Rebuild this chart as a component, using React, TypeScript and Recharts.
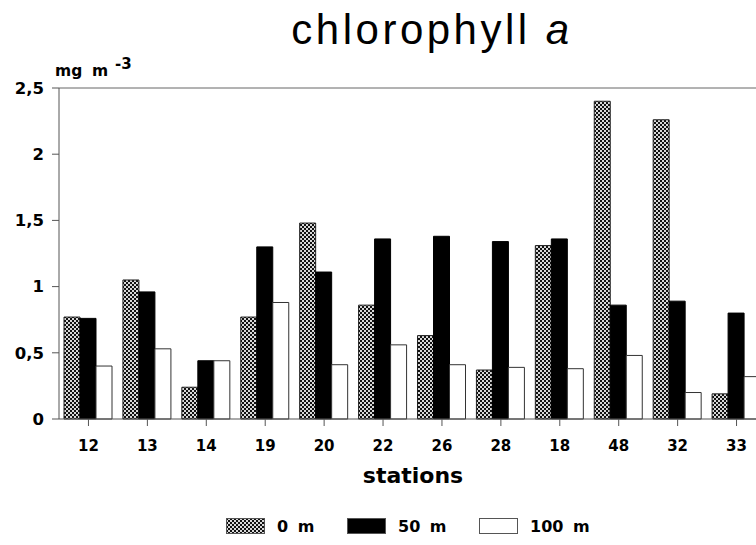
import { BarChart, Bar, XAxis, YAxis, ReferenceLine } from "recharts";

// chlorophyll a concentration (mg m-3) per station and depth
const stations = ["12", "13", "14", "19", "20", "22", "26", "28", "18", "48", "32", "33"];
const depth0 = [0.77, 1.05, 0.24, 0.77, 1.48, 0.86, 0.63, 0.37, 1.31, 2.4, 2.26, 0.19];
const depth50 = [0.76, 0.96, 0.44, 1.3, 1.11, 1.36, 1.38, 1.34, 1.36, 0.86, 0.89, 0.8];
const depth100 = [0.4, 0.53, 0.44, 0.88, 0.41, 0.56, 0.41, 0.39, 0.38, 0.48, 0.2, 0.32];
const yTicks = [0, 0.5, 1, 1.5, 2, 2.5];
const depthLabels = ["0 m", "50 m", "100 m"];

const data = stations.map((s, i) => ({
  station: s,
  d0: depth0[i],
  d50: depth50[i],
  d100: depth100[i],
}));

const TITLE_FONT = '"Liberation Sans", Arial, Helvetica, sans-serif';
const FONT = '"DejaVu Sans", Verdana, sans-serif';
const DOTS = "url(#dots)";

const swatchFills = [DOTS, "#000", "#fff"];
const legendLeft = [226, 347, 479];

function Swatch({ fill }: { fill: string }) {
  return (
    <svg width={40} height={17} style={{ display: "block" }}>
      <rect x={0.5} y={0.5} width={38} height={15} fill={fill} stroke="#555" strokeWidth={1} />
    </svg>
  );
}

export default function App() {
  return (
    <div
      style={{
        position: "absolute",
        left: 0,
        top: 0,
        width: 756,
        height: 545,
        overflow: "hidden",
        background: "#fff",
        fontFamily: FONT,
        color: "#000",
      }}
    >
      {/* checkered fill for the surface samples */}
      <svg width={0} height={0} style={{ position: "absolute" }}>
        <defs>
          <pattern id="dots" width={4} height={4} patternUnits="userSpaceOnUse">
            <rect width={4} height={4} fill="#d8d8d8" />
            <rect x={0} y={0} width={2} height={2} fill="#111" />
            <rect x={2} y={2} width={2} height={2} fill="#111" />
          </pattern>
        </defs>
      </svg>

      <div
        style={{
          position: "absolute",
          left: 232,
          top: 5,
          width: 400,
          textAlign: "center",
          fontFamily: TITLE_FONT,
          fontSize: 42,
          letterSpacing: 3.5,
          lineHeight: "50px",
        }}
      >
        chlorophyll <i>a</i>
      </div>

      {/* unit label */}
      <div style={{ position: "absolute", left: 55, top: 62, fontSize: 15.5, fontWeight: "bold", lineHeight: "18px" }}>
        mg
      </div>
      <div style={{ position: "absolute", left: 92, top: 62, fontSize: 15.5, fontWeight: "bold", lineHeight: "18px" }}>
        m
      </div>
      <div style={{ position: "absolute", left: 115, top: 55, fontSize: 15, fontWeight: "bold", lineHeight: "18px" }}>
        -3
      </div>

      <div style={{ position: "absolute", left: 0, top: 0 }}>
        <BarChart
          width={800}
          height={545}
          data={data}
          margin={{ top: 88, right: 34, bottom: 96, left: 0 }}
          barGap={0}
        >
          <XAxis
            dataKey="station"
            height={30}
            tickSize={7}
            tickMargin={14}
            stroke="#555"
            tick={{ fill: "#000", fontSize: 15, fontWeight: "bold", fontFamily: FONT }}
          />
          <YAxis
            width={59}
            domain={[0, 2.5]}
            ticks={yTicks}
            tickSize={7}
            tickMargin={8}
            stroke="#555"
            tickFormatter={(v: number) => String(v).replace(".", ",")}
            tick={{ fill: "#000", fontSize: 16.5, fontWeight: "bold", fontFamily: FONT }}
          />
          <ReferenceLine y={2.5} stroke="#666" strokeWidth={1} />
          <Bar dataKey="d0" barSize={16} fill={DOTS} stroke="#222" strokeWidth={1} isAnimationActive={false} />
          <Bar dataKey="d50" barSize={16} fill="#000" stroke="#000" strokeWidth={1} isAnimationActive={false} />
          <Bar dataKey="d100" barSize={16} fill="#fff" stroke="#333" strokeWidth={1} isAnimationActive={false} />
        </BarChart>
      </div>

      <div
        style={{
          position: "absolute",
          left: 313,
          top: 462,
          width: 200,
          textAlign: "center",
          fontSize: 22,
          fontWeight: "bold",
          lineHeight: "28px",
        }}
      >
        stations
      </div>

      {depthLabels.map((label, i) => (
        <div
          key={label}
          style={{
            position: "absolute",
            left: legendLeft[i],
            top: 518,
            display: "flex",
            alignItems: "center",
            gap: 11,
            fontSize: 16,
            fontWeight: "bold",
            wordSpacing: 4,
            lineHeight: "17px",
            whiteSpace: "pre",
          }}
        >
          <Swatch fill={swatchFills[i]} />
          <span>{label}</span>
        </div>
      ))}
    </div>
  );
}
